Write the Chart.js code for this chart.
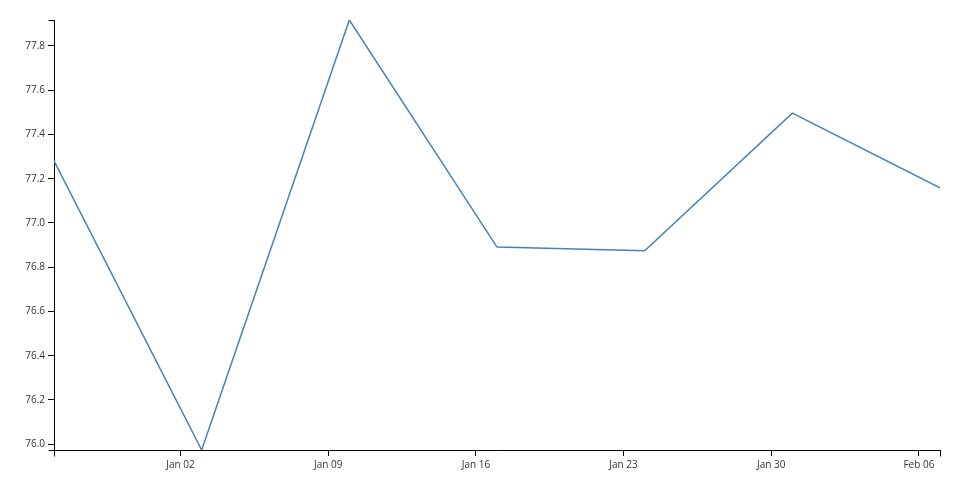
<!DOCTYPE html>
<html>
<head>
<meta charset="utf-8">
<script src="https://cdn.jsdelivr.net/npm/chart.js@4/dist/chart.umd.min.js"></script>
<style>
  html, body { margin: 0; padding: 0; background: #fff; }
  #wrap { width: 960px; height: 500px; position: relative; }
</style>
</head>
<body>
<div id="wrap"><canvas id="c" width="960" height="500"></canvas></div>
<script>
// ---- data ----
const dates = ['2021-12-27', '2022-01-03', '2022-01-10', '2022-01-17', '2022-01-24', '2022-01-31', '2022-02-07'];
const values = [77.281, 75.974, 77.917, 76.891, 76.874, 77.496, 77.159];
const xTickDates = ['2022-01-02', '2022-01-09', '2022-01-16', '2022-01-23', '2022-01-30', '2022-02-06'];
const xTickLabels = ['Jan 02', 'Jan 09', 'Jan 16', 'Jan 23', 'Jan 30', 'Feb 06'];
const yTicks = [76.0, 76.2, 76.4, 76.6, 76.8, 77.0, 77.2, 77.4, 77.6, 77.8];

const DAY = 86400000;
function toDay(s) { const p = s.split('-').map(Number); return Date.UTC(p[0], p[1] - 1, p[2]) / DAY; }
const xs = dates.map(toDay);
const points = xs.map((x, i) => ({ x: x, y: values[i] }));
const xTickVals = xTickDates.map(toDay);
const labelMap = {};
xTickVals.forEach((v, i) => { labelMap[v] = xTickLabels[i]; });

const yMin = Math.min(...values), yMax = Math.max(...values);

const FONT = { family: "'Open Sans', 'Noto Sans', sans-serif", size: 10 };

function align(p) { return Math.round(p - 0.5) + 0.5; }

const outerTicks = {
  id: 'outerTicks',
  afterDraw(chart) {
    const ctx = chart.ctx;
    const a = chart.chartArea;
    const L = align(a.left), R = align(a.right);
    const T = align(a.top), B = align(a.bottom);
    ctx.save();
    ctx.strokeStyle = '#000';
    ctx.lineWidth = 1;
    ctx.beginPath();
    ctx.moveTo(L - 6, T); ctx.lineTo(L, T);
    ctx.moveTo(L - 6, B); ctx.lineTo(L, B);
    ctx.moveTo(L, B); ctx.lineTo(L, B + 6);
    ctx.moveTo(R, B); ctx.lineTo(R, B + 6);
    ctx.stroke();
    ctx.restore();
  }
};

new Chart(document.getElementById('c'), {
  type: 'line',
  data: {
    datasets: [{
      data: points,
      borderColor: '#4682b4',
      borderWidth: 1.5,
      pointRadius: 0,
      pointHoverRadius: 0,
      tension: 0,
      fill: false
    }]
  },
  options: {
    responsive: false,
    animation: false,
    events: [],
    layout: { padding: { top: 20, right: 20, left: 0, bottom: 0 } },
    plugins: { legend: { display: false }, tooltip: { enabled: false } },
    scales: {
      x: {
        type: 'linear',
        min: xs[0],
        max: xs[xs.length - 1],
        afterFit(scale) { scale.height = 50; },
        afterBuildTicks(scale) { scale.ticks = xTickVals.map(v => ({ value: v })); },
        ticks: {
          autoSkip: false,
          maxRotation: 0,
          padding: 3,
          color: '#333',
          font: FONT,
          callback: (v) => labelMap[v] || ''
        },
        grid: { drawOnChartArea: false, drawTicks: true, tickLength: 6, color: '#000' },
        border: { display: true, color: '#000', width: 1 }
      },
      y: {
        type: 'linear',
        min: yMin,
        max: yMax,
        afterFit(scale) { scale.width = 54; },
        afterBuildTicks(scale) { scale.ticks = yTicks.map(v => ({ value: v })); },
        ticks: {
          autoSkip: false,
          padding: 3,
          color: '#333',
          font: FONT,
          callback: (v) => Number(v).toFixed(1)
        },
        grid: { drawOnChartArea: false, drawTicks: true, tickLength: 6, color: '#000' },
        border: { display: true, color: '#000', width: 1 }
      }
    }
  },
  plugins: [outerTicks]
});
</script>
</body>
</html>
